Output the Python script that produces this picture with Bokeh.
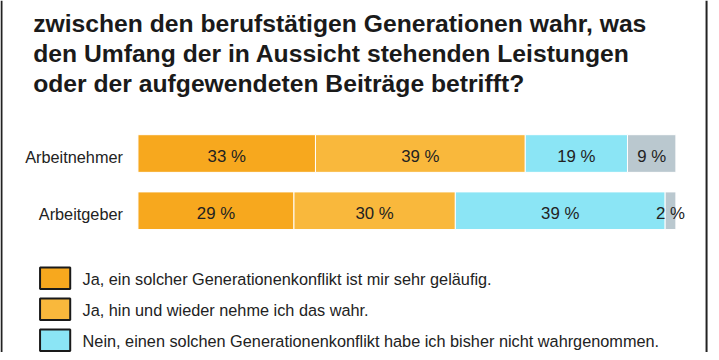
from bokeh.plotting import figure
from bokeh.models import ColumnDataSource, Range1d, Label, Span, BoxAnnotation
from bokeh.core.properties import value
from bokeh.embed import file_html
from bokeh.resources import INLINE

# ---------------- data ----------------
categories = ["Arbeitnehmer", "Arbeitgeber"]
sehr_gelaeufig = [33, 29]
hin_und_wieder = [39, 30]
nicht_wahrgenommen = [19, 39]
keine_angabe = [9, 2]

series_keys = ["sehr_gelaeufig", "hin_und_wieder", "nicht_wahrgenommen", "keine_angabe"]
series_values = [sehr_gelaeufig, hin_und_wieder, nicht_wahrgenommen, keine_angabe]
legend_labels = [
    "Ja, ein solcher Generationenkonflikt ist mir sehr geläufig.",
    "Ja, hin und wieder nehme ich das wahr.",
    "Nein, einen solchen Generationenkonflikt habe ich bisher nicht wahrgenommen.",
]
colors = ["#F7A81E", "#F9B83C", "#8BE5F5", "#BAC8CF"]
title_lines = [
    "zwischen den berufstätigen Generationen wahr, was",
    "den Umfang der in Aussicht stehenden Leistungen",
    "oder der aufgewendeten Beiträge betrifft?",
]

FONT = "Liberation Sans"
W, H = 711, 352
KX, KY = W / 719.0, H / 360.0  # layout scale
MID = 0.3465  # em-box middle above baseline (fraction of font size)


def lx(x):
    return x * KX


def scr_y(y):  # reference top-down pixel -> bokeh screen y (from bottom)
    return H - y * KY


def text_mid(baseline_ref, size):  # screen y of em middle for a reference baseline
    return H - (baseline_ref * KY - MID * size)


# ---------------- figure ----------------
bar_left, bar_right = lx(139), lx(683)
ppu = (bar_right - bar_left) / 100.0
row0, row_step = 156.5 * KY, 58.5 * KY

p = figure(
    width=W, height=H,
    x_range=Range1d(-bar_left / ppu, (W - bar_left) / ppu),
    y_range=Range1d((H - row0) / row_step, -row0 / row_step),
    x_axis_type=None, y_axis_type=None,
    toolbar_location=None, output_backend="svg",
    min_border=0, outline_line_color=None,
)
p.grid.visible = False
p.background_fill_color = "white"
p.border_fill_color = "white"

ys = list(range(len(categories)))
data = {"y": ys, "cat": categories}
for k, v in zip(series_keys, series_values):
    data[k] = v
src = ColumnDataSource(data)

p.hbar_stack(series_keys, y="y", height=38.5 * KY / row_step, fill_color=colors,
             line_color="white", line_width=1, source=src)

VAL_SIZE, CAT_SIZE, TITLE_SIZE, LEG_SIZE = 16.8, 16.3, 24.7, 16.3

# value labels at segment centres
vx, vy, vt = [], [], []
for i in ys:
    left = 0
    for vals in series_values:
        v = vals[i]
        vx.append(left + v / 2)
        vy.append(i)
        vt.append(f"{v} %")
        left += v
p.text(x="x", y="y", text="t", source=ColumnDataSource(dict(x=vx, y=vy, t=vt)),
       text_align="center", text_baseline="middle",
       y_offset=9.2 * KY - MID * VAL_SIZE,
       text_font=value(FONT), text_font_size=f"{VAL_SIZE}px", text_color="#222222")

# category labels
p.text(x=[0] * len(ys), y=ys, text=categories, x_offset=-15,
       y_offset=9.2 * KY - MID * CAT_SIZE,
       text_align="right", text_baseline="middle",
       text_font=value(FONT), text_font_size=f"{CAT_SIZE}px", text_color="#222222")

# title lines
for j, line in enumerate(title_lines):
    p.add_layout(Label(x=lx(33), y=text_mid(32 + 31 * j, TITLE_SIZE),
                       x_units="screen", y_units="screen",
                       text=line, text_font=FONT, text_font_size=f"{TITLE_SIZE}px",
                       text_font_style="bold", text_color="#1a1a1a",
                       text_baseline="middle"))

# frame border lines (left / right)
for loc in (lx(1), lx(714)):
    p.add_layout(Span(location=loc, location_units="screen", dimension="height",
                      line_color="#222222", line_width=2))

# legend (swatches + labels)
for j, (lab, c) in enumerate(zip(legend_labels, colors)):
    top = 273 + 31.7 * j
    p.add_layout(BoxAnnotation(left=lx(40), right=lx(70.5),
                               top=scr_y(top), bottom=scr_y(top + 22),
                               left_units="screen", right_units="screen",
                               top_units="screen", bottom_units="screen",
                               fill_color=c, fill_alpha=1,
                               line_color="#1a1a1a", line_width=2, line_alpha=1))
    p.add_layout(Label(x=lx(83), y=text_mid(top + 17.8, LEG_SIZE),
                       x_units="screen", y_units="screen",
                       text=lab, text_font=FONT, text_font_size=f"{LEG_SIZE}px",
                       text_color="#222222", text_baseline="middle"))

open("out.html", "w").write(file_html(p, INLINE))
